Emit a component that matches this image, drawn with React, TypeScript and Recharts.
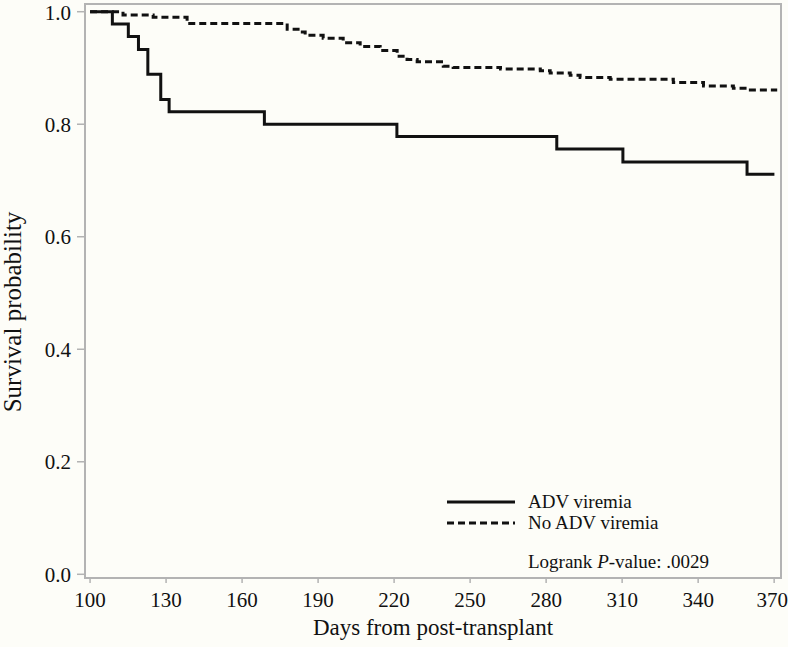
import { LineChart, Line, XAxis, YAxis, ReferenceArea } from "recharts";

const xTicks = [100, 130, 160, 190, 220, 250, 280, 310, 340, 370];
const yTicks = [0, 0.2, 0.4, 0.6, 0.8, 1.0];

// ADV viremia (Kaplan-Meier steps)
const advDays = [100, 108.8, 115.1, 119.1, 122.8, 127.9, 131.2, 168.8, 221.1, 284.2, 310.3, 359.3, 370.1];
const advSurv = [1, 0.978, 0.956, 0.933, 0.889, 0.844, 0.822, 0.8, 0.778, 0.756, 0.733, 0.711, 0.711];

// No ADV viremia
const noAdvDays = [
  100, 113, 124.9, 138.3, 177.8, 182.1, 184.9, 192, 199.9, 206.6, 214.5, 221.2, 225.1, 229.1,
  239.4, 243.3, 262, 277.7, 281.6, 289.5, 293.4, 305.3, 330.2, 342.1, 353.9, 359.4, 371.2,
];
const noAdvSurv = [
  1, 0.994, 0.99, 0.979, 0.969, 0.964, 0.958, 0.953, 0.945, 0.938, 0.931, 0.921, 0.915, 0.911,
  0.903, 0.901, 0.898, 0.895, 0.891, 0.887, 0.883, 0.88, 0.874, 0.868, 0.864, 0.861, 0.861,
];

const advData = advDays.map((d, i) => ({ day: d, surv: advSurv[i] }));
const noAdvData = noAdvDays.map((d, i) => ({ day: d, surv: noAdvSurv[i] }));

const FONT = "'Liberation Serif', 'DejaVu Serif', serif";
const AXIS = "#b3b3b3";
const INK = "#111111";
const X_DOMAIN = [98, 372.7];
const Y_DOMAIN = [-0.0066, 1.0137];

function KMLegend() {
  const row = { display: "flex", alignItems: "center", height: 21, lineHeight: "21px" };
  return (
    <div
      style={{
        position: "absolute",
        left: 447,
        top: 491,
        fontFamily: FONT,
        fontSize: 19,
        color: INK,
        whiteSpace: "nowrap",
      }}
    >
      <div style={row}>
        <svg width={68} height={6} style={{ marginRight: 13 }}>
          <line x1={0} y1={3} x2={68} y2={3} stroke={INK} strokeWidth={3} />
        </svg>
        <span>ADV viremia</span>
      </div>
      <div style={row}>
        <svg width={68} height={6} style={{ marginRight: 13 }}>
          <line x1={0} y1={3} x2={68} y2={3} stroke={INK} strokeWidth={3} strokeDasharray="7 4" />
        </svg>
        <span>No ADV viremia</span>
      </div>
      <div style={{ ...row, marginTop: 18, paddingLeft: 81 }}>
        <span>
          Logrank <i>P</i>-value: .0029
        </span>
      </div>
    </div>
  );
}

export default function App() {
  return (
    <div style={{ position: "relative", width: 788, height: 647, background: "#fdfdf8" }}>
      <style>{"body{margin:0}"}</style>
      <LineChart width={788} height={647} margin={{ top: 4, right: 7, bottom: 0, left: 0 }}>
        <ReferenceArea
          x1={X_DOMAIN[0]}
          x2={X_DOMAIN[1]}
          y1={Y_DOMAIN[0]}
          y2={Y_DOMAIN[1]}
          fill="none"
          fillOpacity={0}
          stroke={AXIS}
          strokeWidth={2}
        />
        <XAxis
          dataKey="day"
          type="number"
          domain={X_DOMAIN}
          ticks={xTicks}
          allowDataOverflow
          height={69}
          tickSize={5}
          tickMargin={9}
          axisLine={{ stroke: AXIS, strokeWidth: 2 }}
          tickLine={{ stroke: AXIS, strokeWidth: 1.5 }}
          tick={{ fill: INK, fontFamily: FONT, fontSize: 21 }}
          label={({ viewBox }: any) => (
            <text
              x={viewBox.x + viewBox.width / 2}
              y={viewBox.y + 52}
              textAnchor="middle"
              dominantBaseline="middle"
              fill={INK}
              fontFamily={FONT}
              fontSize={23}
            >
              Days from post-transplant
            </text>
          )}
        />
        <YAxis
          type="number"
          domain={Y_DOMAIN}
          ticks={yTicks}
          allowDataOverflow
          width={85}
          tickSize={8}
          tickMargin={6}
          axisLine={{ stroke: AXIS, strokeWidth: 2 }}
          tickLine={{ stroke: AXIS, strokeWidth: 1.5 }}
          tick={{ fill: INK, fontFamily: FONT, fontSize: 21 }}
          tickFormatter={(v: number) => v.toFixed(1)}
          label={({ viewBox }: any) => {
            const cx = 15;
            const cy = viewBox.y + viewBox.height / 2 + 21;
            return (
              <text
                x={cx}
                y={cy}
                transform={`rotate(-90 ${cx} ${cy})`}
                textAnchor="middle"
                dominantBaseline="middle"
                fill={INK}
                fontFamily={FONT}
                fontSize={25}
              >
                Survival probability
              </text>
            );
          }}
        />
        <Line
          data={noAdvData}
          dataKey="surv"
          name="No ADV viremia"
          type="stepAfter"
          stroke={INK}
          strokeWidth={3}
          strokeDasharray="7 4"
          dot={false}
          activeDot={false}
          isAnimationActive={false}
        />
        <Line
          data={advData}
          dataKey="surv"
          name="ADV viremia"
          type="stepAfter"
          stroke={INK}
          strokeWidth={3}
          dot={false}
          activeDot={false}
          isAnimationActive={false}
        />
      </LineChart>
      <KMLegend />
    </div>
  );
}
